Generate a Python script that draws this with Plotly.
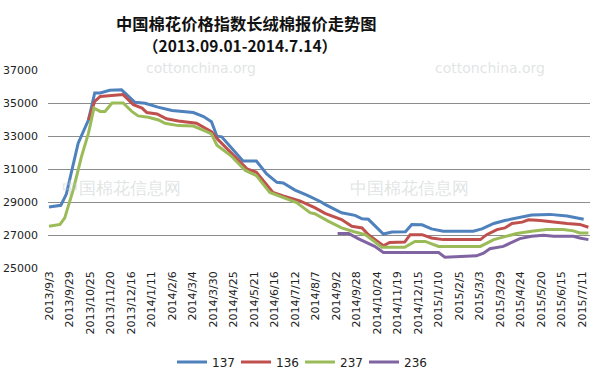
import plotly.graph_objects as go

# ---- data ----
tick_dates = ["2013-09-03", "2013-09-29", "2013-10-25", "2013-11-20", "2013-12-16",
              "2014-01-11", "2014-02-06", "2014-03-04", "2014-03-30", "2014-04-25",
              "2014-05-21", "2014-06-16", "2014-07-12", "2014-08-07", "2014-09-02",
              "2014-09-28", "2014-10-24", "2014-11-19", "2014-12-15", "2015-01-10",
              "2015-02-05", "2015-03-03", "2015-03-29", "2015-04-24", "2015-05-20",
              "2015-06-15", "2015-07-11"]
tick_labels = ["2013/9/3", "2013/9/29", "2013/10/25", "2013/11/20", "2013/12/16",
               "2014/1/11", "2014/2/6", "2014/3/4", "2014/3/30", "2014/4/25",
               "2014/5/21", "2014/6/16", "2014/7/12", "2014/8/7", "2014/9/2",
               "2014/9/28", "2014/10/24", "2014/11/19", "2014/12/15", "2015/1/10",
               "2015/2/5", "2015/3/3", "2015/3/29", "2015/4/24", "2015/5/20",
               "2015/6/15", "2015/7/11"]

dates_137 = ["2013-09-03", "2013-09-18", "2013-09-25", "2013-10-10", "2013-10-23",
             "2013-10-31", "2013-11-07", "2013-11-19", "2013-12-04", "2013-12-21",
             "2014-01-03", "2014-01-19", "2014-02-06", "2014-02-22", "2014-03-05",
             "2014-03-18", "2014-03-28", "2014-04-04", "2014-04-10", "2014-04-25",
             "2014-05-07", "2014-05-24", "2014-06-06", "2014-06-19", "2014-06-27",
             "2014-07-12", "2014-07-27", "2014-08-13", "2014-08-19", "2014-09-09",
             "2014-09-26", "2014-10-05", "2014-10-13", "2014-11-01", "2014-11-12",
             "2014-11-29", "2014-12-07", "2014-12-20", "2015-01-01", "2015-01-16",
             "2015-02-23", "2015-03-06", "2015-03-21", "2015-04-04", "2015-04-19",
             "2015-05-08", "2015-05-31", "2015-06-22", "2015-07-13"]
price_137 = [28700, 28800, 29480, 32560, 33970,
             35610, 35610, 35770, 35800, 35040,
             34980, 34750, 34550, 34490, 34420,
             34180, 33870, 32990, 32950, 32130,
             31480, 31480, 30700, 30190, 30150,
             29720, 29420, 29030, 28860, 28350,
             28190, 27980, 27950, 27060, 27180,
             27200, 27640, 27620, 27370, 27230,
             27230, 27370, 27700, 27880, 28040,
             28210, 28250, 28150, 27950]

dates_136 = ["2013-10-23", "2013-10-31", "2013-11-07", "2013-11-22", "2013-12-06",
             "2013-12-19", "2013-12-30", "2014-01-05", "2014-01-18", "2014-01-30",
             "2014-02-14", "2014-03-09", "2014-03-28", "2014-04-06", "2014-04-25",
             "2014-05-12", "2014-05-24", "2014-06-14", "2014-06-27", "2014-07-18",
             "2014-08-06", "2014-08-19", "2014-09-09", "2014-09-22", "2014-10-05",
             "2014-10-13", "2014-11-01", "2014-11-09", "2014-11-28", "2014-12-05",
             "2014-12-20", "2015-01-01", "2015-01-16", "2015-03-04", "2015-03-12",
             "2015-03-25", "2015-04-04", "2015-04-13", "2015-04-26", "2015-05-04",
             "2015-05-19", "2015-06-05", "2015-06-22", "2015-07-08", "2015-07-19"]
price_136 = [33970, 35100, 35400, 35460, 35510,
             34900, 34690, 34420, 34340, 34040,
             33910, 33770, 33260, 32750, 31830,
             31010, 30800, 29580, 29370, 29070,
             28660, 28310, 27940, 27530, 27430,
             27020, 26350, 26550, 26570, 27020,
             27020, 26820, 26720, 26720, 27020,
             27330, 27430, 27700, 27780, 27920,
             27880, 27780, 27700, 27640, 27470]

dates_237 = ["2013-09-03", "2013-09-17", "2013-09-23", "2013-10-04", "2013-10-14",
             "2013-10-23", "2013-10-30", "2013-11-07", "2013-11-13", "2013-11-22",
             "2013-12-06", "2013-12-17", "2013-12-25", "2014-01-07", "2014-01-20",
             "2014-01-28", "2014-02-14", "2014-03-05", "2014-03-22", "2014-03-28",
             "2014-04-04", "2014-04-21", "2014-05-10", "2014-05-24", "2014-06-10",
             "2014-06-27", "2014-07-14", "2014-07-31", "2014-08-06", "2014-08-23",
             "2014-09-09", "2014-09-26", "2014-10-09", "2014-10-30", "2014-11-28",
             "2014-12-11", "2014-12-24", "2015-01-10", "2015-03-04", "2015-03-21",
             "2015-04-04", "2015-04-19", "2015-05-08", "2015-05-27", "2015-06-17",
             "2015-06-30", "2015-07-08", "2015-07-19"]
price_237 = [27530, 27640, 28040, 29780, 31720,
             33160, 34690, 34490, 34490, 35000,
             35000, 34490, 34220, 34140, 33970,
             33770, 33630, 33600, 33260, 33120,
             32440, 31830, 30910, 30600, 29580,
             29270, 28960, 28350, 28290, 27840,
             27430, 27180, 27020, 26260, 26260,
             26610, 26610, 26310, 26310, 26720,
             26920, 27090, 27230, 27330, 27330,
             27250, 27120, 27120]

dates_236 = ["2014-09-04", "2014-09-18", "2014-09-30", "2014-10-21", "2014-11-01",
             "2015-01-10", "2015-01-18", "2015-02-27", "2015-03-08", "2015-03-16",
             "2015-04-02", "2015-04-11", "2015-04-23", "2015-05-08", "2015-05-23",
             "2015-06-05", "2015-06-30", "2015-07-08", "2015-07-19"]
price_236 = [27090, 27090, 26780, 26310, 25940,
             25940, 25650, 25740, 25900, 26170,
             26310, 26510, 26780, 26920, 26980,
             26920, 26920, 26820, 26720]

series = [("137", dates_137, price_137, "#4F81BD"),
          ("136", dates_136, price_136, "#C0504D"),
          ("237", dates_237, price_237, "#9BBB59"),
          ("236", dates_236, price_236, "#8064A2")]

fig = go.Figure()
for name, xs, ys, color in series:
    fig.add_trace(go.Scatter(x=xs, y=ys, name=name, mode="lines",
                             line=dict(color=color, width=3)))

PL, PR, PT, PB = 48, 590, 70, 268
pw, ph = PR - PL, PB - PT

def px(x):
    return (x - PL) / pw

def py(y):
    return (PB - y) / ph

fig.update_layout(
    width=598, height=371,
    margin=dict(l=PL, r=598 - PR, t=PT, b=371 - PB, autoexpand=False),
    paper_bgcolor="white", plot_bgcolor="white",
    font=dict(family="DejaVu Sans", size=11, color="#222222"),
    showlegend=True,
    legend=dict(orientation="h", x=px(300), xanchor="center", y=py(362), yanchor="middle",
                font=dict(size=12, color="#222222"), bgcolor="rgba(0,0,0,0)",
                itemwidth=30, entrywidth=19, entrywidthmode="pixels"),
)
fig.update_xaxes(type="date", range=["2013-09-01 18:00", "2015-07-21"],
                 tickmode="array", tickvals=tick_dates, ticktext=tick_labels,
                 tickangle=-90, tickfont=dict(size=11, color="#222222"),
                 showgrid=False, showline=False, zeroline=False, ticks="",
                 automargin=False)
fig.update_yaxes(range=[25000, 37000], dtick=2000, tick0=25000, tickformat="d",
                 showgrid=True, gridcolor="#8c8c8c", gridwidth=1,
                 showline=False, zeroline=False, ticks="",
                 tickfont=dict(size=11, color="#222222"), ticklabelstandoff=9,
                 automargin=False)

# faint watermarks
for wx, wy, wt, ws in [(201, 68, "cottonchina.org", 14), (490, 68, "cottonchina.org", 14),
                       (121, 188, "中国棉花信息网", 17), (410, 188, "中国棉花信息网", 17)]:
    fig.add_annotation(text=wt, x=px(wx), y=py(wy), xref="paper", yref="paper",
                       xanchor="center", yanchor="middle", showarrow=False,
                       font=dict(family="DejaVu Sans", size=ws, color="rgba(200,205,205,0.55)"))

fig.add_annotation(text="<b>中国棉花价格指数长绒棉报价走势图</b>",
                   x=px(246), xref="paper", y=py(23), yref="paper",
                   xanchor="center", yanchor="middle", showarrow=False,
                   font=dict(family="Noto Sans CJK SC", size=16.3, color="#111111"))
fig.add_annotation(text="<b>（2013.09.01-2014.7.14）</b>",
                   x=px(240), xref="paper", y=py(45), yref="paper",
                   xanchor="center", yanchor="middle", showarrow=False,
                   font=dict(family="Noto Sans CJK SC", size=15.5, color="#111111"))

fig.write_html("out.html", config={"displayModeBar": False},
               post_script="document.body.style.margin='0';document.body.style.padding='0';"
                           "document.documentElement.style.overflow='hidden';")
